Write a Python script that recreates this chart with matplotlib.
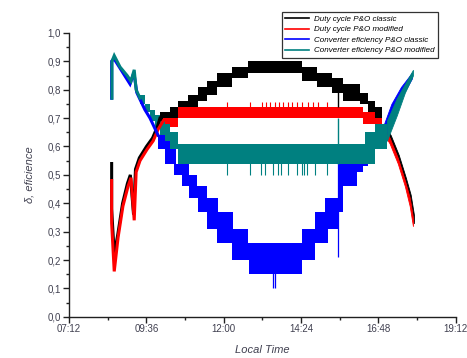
from matplotlib import pyplot as plt
from matplotlib.ticker import FixedLocator, FuncFormatter, MultipleLocator
import numpy as np

plt.rcParams['font.family'] = ['Liberation Sans', 'DejaVu Sans']

#############################################
# Data (hours, values) #
#############################################

# --- duty cycle P&O classic (black)
black_rise_t = [8.52, 8.52, 8.56, 8.60, 8.71, 8.86, 9.01, 9.10, 9.20, 9.26, 9.38, 9.60, 9.79, 9.94, 10.02]
black_rise_v = [0.54, 0.38, 0.30, 0.22, 0.29, 0.40, 0.47, 0.50, 0.36, 0.52, 0.56, 0.60, 0.63, 0.67, 0.70]
black_band_t = [10.02, 10.33, 10.58, 10.89, 11.20, 11.48, 11.79, 12.25, 12.75, 14.42, 14.89, 15.35, 15.70, 16.22, 16.47, 16.69, 16.91]
black_band_hi = [0.72, 0.74, 0.76, 0.78, 0.81, 0.83, 0.86, 0.88, 0.90, 0.88, 0.86, 0.84, 0.82, 0.79, 0.76, 0.74, 0.74]
black_band_lo = [0.69, 0.70, 0.72, 0.74, 0.76, 0.78, 0.81, 0.84, 0.86, 0.83, 0.81, 0.79, 0.76, 0.75, 0.72, 0.70, 0.70]
black_tail_t = [16.94, 17.18, 17.43, 17.65, 17.80, 17.90]
black_tail_hi = [0.68, 0.64, 0.57, 0.49, 0.43, 0.36]
black_tail_lo = [0.66, 0.62, 0.55, 0.47, 0.40, 0.33]

# --- duty cycle P&O modified (red)
red_rise_t = [8.52, 8.52, 8.60, 8.72, 8.87, 9.03, 9.12, 9.22, 9.28, 9.40, 9.62, 9.81, 9.96, 10.12]
red_rise_v = [0.48, 0.33, 0.16, 0.28, 0.39, 0.46, 0.49, 0.34, 0.51, 0.55, 0.59, 0.62, 0.66, 0.69]
red_band_t = [10.11, 10.58, 16.32, 16.69, 16.91]
red_band_hi = [0.70, 0.74, 0.72, 0.70, 0.70]
red_band_lo = [0.67, 0.70, 0.68, 0.665, 0.665]
red_tail_t = [16.91, 17.15, 17.40, 17.62, 17.77, 17.87]
red_tail_hi = [0.68, 0.63, 0.56, 0.48, 0.42, 0.35]
red_tail_lo = [0.655, 0.61, 0.54, 0.46, 0.39, 0.32]
red_spike_t = [12.10, 12.81, 13.18, 13.31, 13.43, 13.59, 13.71, 13.84, 13.99, 14.11, 14.27, 14.42, 14.61, 14.77, 14.92, 15.20]

# --- converter efficiency P&O classic (blue)
blue_rise_t = [8.52, 8.52, 8.59, 9.09, 9.21, 9.30, 9.55, 9.71, 9.96]
blue_rise_v = [0.77, 0.90, 0.91, 0.82, 0.86, 0.79, 0.73, 0.70, 0.64]
blue_band_t = [9.96, 10.18, 10.33, 10.46, 10.52, 10.70, 10.92, 11.17, 11.20, 11.48, 11.79, 11.82, 12.25, 12.29, 12.75,
               12.78, 14.42, 14.83, 15.14, 15.23, 15.54, 15.70, 16.13, 16.32, 16.47, 16.69, 16.91]
blue_band_hi = [0.64, 0.64, 0.61, 0.61, 0.54, 0.54, 0.50, 0.46, 0.46, 0.42, 0.42, 0.37, 0.37, 0.31, 0.26,
                0.26, 0.31, 0.37, 0.42, 0.42, 0.55, 0.54, 0.58, 0.59, 0.62, 0.63, 0.63]
blue_band_lo = [0.59, 0.54, 0.54, 0.50, 0.50, 0.46, 0.42, 0.42, 0.37, 0.31, 0.26, 0.26, 0.20, 0.20, 0.20,
                0.15, 0.20, 0.26, 0.26, 0.31, 0.37, 0.46, 0.51, 0.53, 0.57, 0.60, 0.60]
blue_tail_t = [16.91, 17.20, 17.50, 17.84]
blue_tail_hi = [0.66, 0.75, 0.81, 0.86]
blue_tail_lo = [0.60, 0.69, 0.77, 0.84]
blue_spike_t = [13.53, 13.60, 15.54]
blue_spike_lo = [0.10, 0.10, 0.21]
blue_spike_hi = [0.20, 0.20, 0.55]

# --- converter efficiency P&O modified (teal)
teal_rise_t = [8.53, 8.53, 8.60, 8.78, 9.00, 9.12, 9.22, 9.28, 9.40]
teal_rise_v = [0.77, 0.90, 0.92, 0.88, 0.85, 0.83, 0.87, 0.80, 0.77]
teal_band_t = [9.40, 9.56, 9.71, 9.87, 10.02, 10.18, 10.33, 10.58, 16.38, 16.69, 17.06]
teal_band_hi = [0.78, 0.75, 0.73, 0.71, 0.69, 0.68, 0.65, 0.61, 0.65, 0.68, 0.68]
teal_band_lo = [0.75, 0.72, 0.69, 0.66, 0.64, 0.62, 0.59, 0.54, 0.54, 0.59, 0.59]
teal_tail_t = [17.06, 17.37, 17.62, 17.87]
teal_tail_hi = [0.69, 0.77, 0.82, 0.87]
teal_tail_lo = [0.62, 0.71, 0.79, 0.85]
teal_spike_t = [12.10, 12.81, 13.15, 13.28, 13.53, 13.68, 13.77, 13.99, 14.27, 14.42, 14.49, 14.58, 14.83, 15.20]

transient_t = 15.54

x_ticks = [7.2, 9.6, 12.0, 14.4, 16.8, 19.2]

series_colors = ['#000000', '#ff0000', '#0000ff', '#008080']
series_names = ['Duty cycle P&O classic', 'Duty cycle P&O modified',
                'Converter eficiency P&O classic', 'Converter eficiency P&O modified']

#########################
# Create plotting stuff #
#########################

fig = plt.figure(figsize=(4.67, 3.58), dpi=100)
ax = fig.add_axes([0.148, 0.115, 0.828, 0.793])

def drawSeries(col, rise_t, rise_v, band_t, band_lo, band_hi, tail_t, tail_lo, tail_hi):
    ax.plot(rise_t, rise_v, color=col, lw=2.2, solid_joinstyle='miter')
    ax.fill_between(band_t, band_lo, band_hi, step='post', color=col, lw=0)
    ax.fill_between(tail_t, tail_lo, tail_hi, color=col, lw=0.6, edgecolor=col)

drawSeries(series_colors[0], black_rise_t, black_rise_v, black_band_t, black_band_lo, black_band_hi,
           black_tail_t, black_tail_lo, black_tail_hi)
ax.vlines(transient_t, 0.74, 0.82, color=series_colors[0], lw=1)

drawSeries(series_colors[1], red_rise_t, red_rise_v, red_band_t, red_band_lo, red_band_hi,
           red_tail_t, red_tail_lo, red_tail_hi)
ax.vlines(red_spike_t, 0.73, 0.757, color=series_colors[1], lw=0.8)

drawSeries(series_colors[2], blue_rise_t, blue_rise_v, blue_band_t, blue_band_lo, blue_band_hi,
           blue_tail_t, blue_tail_lo, blue_tail_hi)
ax.vlines(blue_spike_t, blue_spike_lo, blue_spike_hi, color=series_colors[2], lw=0.9)

drawSeries(series_colors[3], teal_rise_t, teal_rise_v, teal_band_t, teal_band_lo, teal_band_hi,
           teal_tail_t, teal_tail_lo, teal_tail_hi)
ax.vlines(teal_spike_t, 0.50, 0.55, color=series_colors[3], lw=0.8)
ax.vlines(transient_t, 0.54, 0.70, color=series_colors[3], lw=1)

#################
# Axes styling  #
#################

def hhmm(h, pos=None):
    m = int(round(h * 60))
    return '%02d:%02d' % (m // 60, m % 60)

ax.set_xlim(7.2, 19.2)
ax.set_ylim(0, 1.0)
ax.xaxis.set_major_locator(FixedLocator(x_ticks))
ax.xaxis.set_minor_locator(MultipleLocator(1.2))
ax.xaxis.set_major_formatter(FuncFormatter(hhmm))
ax.yaxis.set_major_locator(MultipleLocator(0.1))
ax.yaxis.set_minor_locator(MultipleLocator(0.05))
ax.yaxis.set_major_formatter(FuncFormatter(lambda v, p: ('%.1f' % v).replace('.', ',')))

for s in ['top', 'right']:
    ax.spines[s].set_visible(False)
for s in ['left', 'bottom']:
    ax.spines[s].set_linewidth(1.0)
    ax.spines[s].set_color('#202020')

ax.tick_params(which='major', direction='out', length=4, width=1, labelsize=7, labelcolor='#404050', color='#202020')
ax.tick_params(which='minor', direction='out', length=2.5, width=1, color='#202020')
ax.tick_params(axis='x', pad=1)
ax.tick_params(axis='y', pad=2)

ax.set_ylabel('δ, eficience', fontsize=8, style='italic', color='#404050', labelpad=9)
ax.set_xlabel('Local Time', fontsize=8, style='italic', color='#404050', labelpad=8)

##########
# Legend #
##########

handles = [plt.Line2D([], [], color=c, lw=1.2) for c in series_colors]
leg = fig.legend(handles, series_names, loc='upper left', bbox_to_anchor=(0.604, 0.966),
                 prop={'style': 'italic', 'size': 5.8}, frameon=True, fancybox=False,
                 handlelength=3.0, handletextpad=0.6, labelspacing=0.35, borderpad=0.4,
                 borderaxespad=0)
leg.get_frame().set_edgecolor('black')
leg.get_frame().set_linewidth(0.9)

fig.savefig('out.png', dpi=100)
